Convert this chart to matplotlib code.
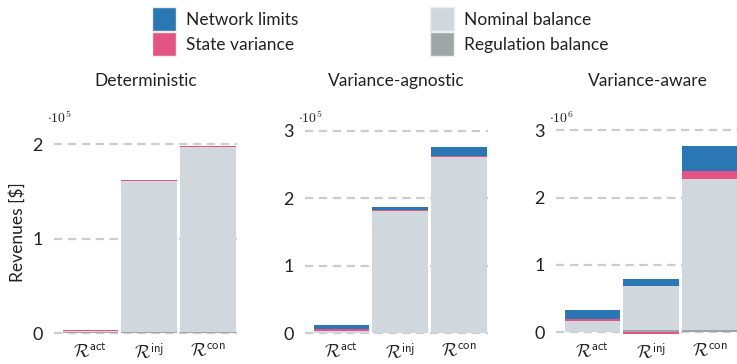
import numpy as np
import matplotlib
matplotlib.use('Agg')
import matplotlib.pyplot as plt
from matplotlib.patches import Patch

plt.rcParams['font.family'] = ['Lato', 'DejaVu Sans']
plt.rcParams['mathtext.fontset'] = 'cm'
plt.rcParams['lines.scale_dashes'] = False

# Revenue components in $ per scheme (act, inj, con)
schemes = ['act', 'inj', 'con']
titles = ['Deterministic', 'Variance-agnostic', 'Variance-aware']
exponents = [5, 5, 6]

regulation = [
    [1000, 1000, 1000],
    [1000, 1000, 1000],
    [10000, 35000, 30000],
]
nominal = [
    [1500, 160000, 195500],
    [3000, 180000, 260000],
    [160000, 655000, 2250000],
]
state_var = [
    [1000, 1000, 1000],
    [2000, 2000, 2000],
    [27000, -25000, 120000],
]
network = [
    [0, 0, 0],
    [6400, 4000, 13000],
    [133000, 100000, 370000],
]

ylims = [(-0.029, 2.17), (-0.04, 3.04), (-0.055, 3.035)]
yticks = [[0, 1, 2], [0, 1, 2, 3], [0, 1, 2, 3]]

c_net = '#2b77b3'
c_state = '#e35485'
c_nom = '#d0d8de'
c_reg = '#9fa6a8'

fig = plt.figure(figsize=(7.37, 3.64), dpi=100)
lefts = [54, 305, 556]
W, H = 737, 364
bottom_px, top_px = 336, 128

x = np.arange(3)
width = 0.95
for i in range(3):
    ax = fig.add_axes([lefts[i] / W, 1 - bottom_px / H, 183 / W, (bottom_px - top_px) / H])
    s = 10.0 ** exponents[i]
    comps = [(regulation[i], c_reg), (nominal[i], c_nom), (state_var[i], c_state), (network[i], c_net)]
    pos = np.zeros(3)
    neg = np.zeros(3)
    for vals, col in comps:
        v = np.array(vals, dtype=float) / s
        b = np.where(v >= 0, pos, neg)
        ax.bar(x, v, width, bottom=b, color=col, linewidth=0)
        pos = pos + np.where(v >= 0, v, 0)
        neg = neg + np.where(v < 0, v, 0)
    ax.set_xlim(-0.62, 2.5)
    ax.set_ylim(*ylims[i])
    ax.set_yticks(yticks[i])
    ax.set_yticklabels([str(t) for t in yticks[i]])
    ax.set_xticks(x)
    ax.set_xticklabels([r'$\mathcal{R}^{\mathsf{%s}}$' % n for n in schemes], fontsize=14.5)
    ax.tick_params(axis='both', length=0, labelsize=13, colors='#222222')
    ax.tick_params(axis='y', pad=8)
    ax.tick_params(axis='x', pad=4)
    for sp in ax.spines.values():
        sp.set_visible(False)
    ax.set_axisbelow(True)
    ax.yaxis.grid(True, color='#cccccc', linewidth=1.6, linestyle=(0, (6, 4)))
    ax.set_title(titles[i], fontsize=12.5, pad=30, color='#222222')
    ax.text(-0.04, 1.015, r'$\cdot\mathsf{10}^{\mathsf{%d}}$' % exponents[i],
            transform=ax.transAxes, fontsize=10, ha='left', va='bottom', color='#222222')
    if i == 0:
        ax.set_ylabel(r'Revenues [\$]', fontsize=12.5, labelpad=5, color='#222222')

handles = [
    Patch(facecolor=c_net, edgecolor='#eeeeee', label='Network limits'),
    Patch(facecolor=c_state, edgecolor='#eeeeee', label='State variance'),
    Patch(facecolor=c_nom, edgecolor='#eeeeee', label='Nominal balance'),
    Patch(facecolor=c_reg, edgecolor='#eeeeee', label='Regulation balance'),
]
fig.legend(handles=handles, ncol=2, loc='upper left', bbox_to_anchor=(152 / W, 1 - 7 / H),
           frameon=False, fontsize=12.5, handlelength=1.4, handleheight=1.75,
           handletextpad=0.55, labelspacing=0.08, columnspacing=7.6,
           borderpad=0, borderaxespad=0, labelcolor='#222222')

fig.savefig('out.png', dpi=100)
